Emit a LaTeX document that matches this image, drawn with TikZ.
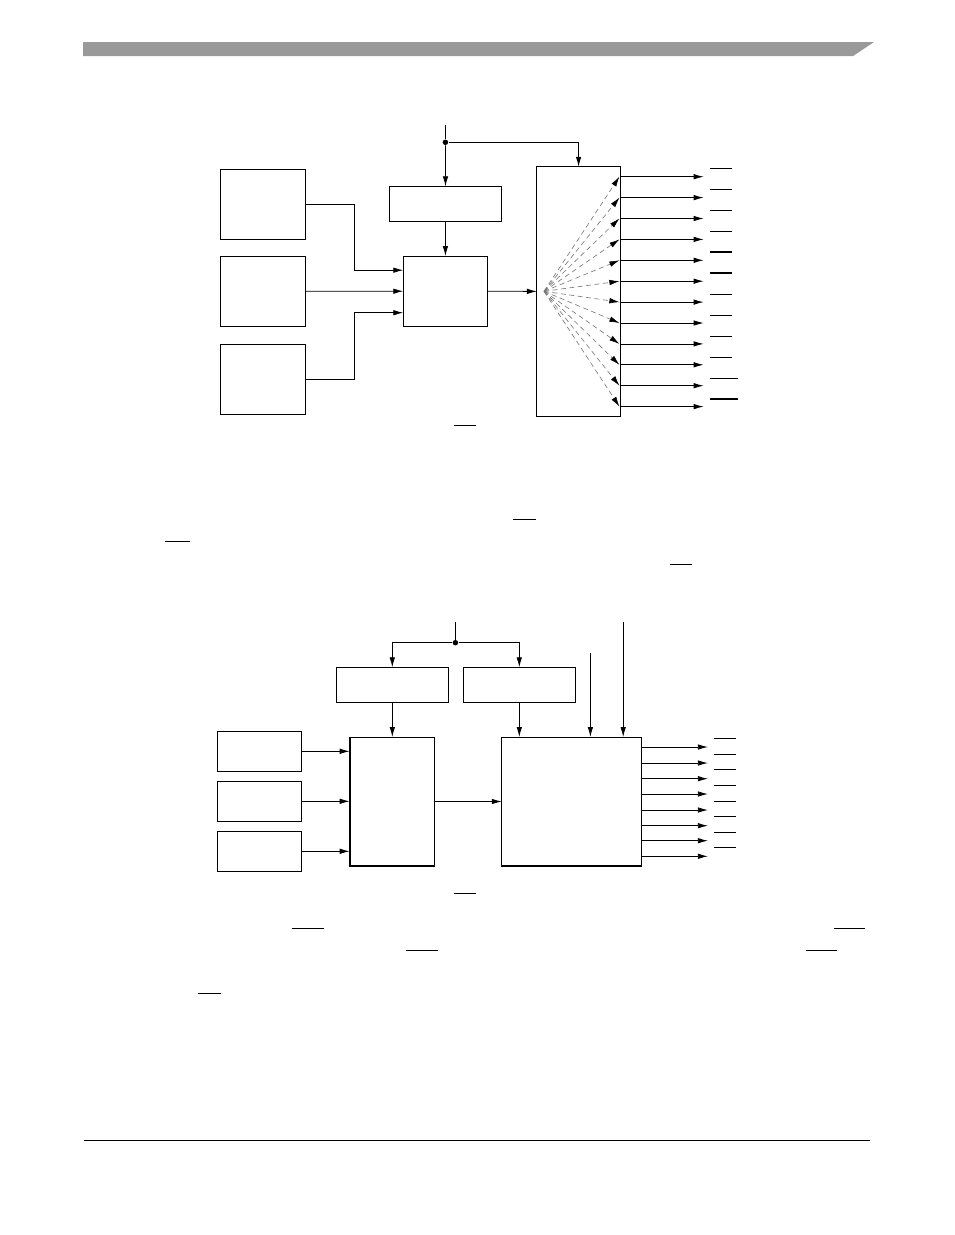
\documentclass[tikz,border=0pt]{standalone}
\usetikzlibrary{arrows.meta}
\begin{document}
\begin{tikzpicture}[x=1pt,y=-1pt,line width=0.8pt,
  blk/.style={draw,rectangle,inner sep=0pt,outer sep=0pt,line width=0.8pt},
  arr/.style={-{Latex[length=10pt,width=5.5pt]}},
  fan/.style={draw=black!55,line width=0.6pt,dash pattern=on 5pt off 3.5pt,-{Latex[length=10pt,width=5.5pt,color=black]}},
  ovl/.style={line width=0.9pt},
  ovlb/.style={line width=1.8pt},
  jdot/.style={circle,fill,inner sep=0pt,minimum size=5.5pt}]
\useasboundingbox (0,0) rectangle (954,1235);
% header bar
\fill[black!40] (83,42) -- (874,42) -- (853,56) -- (83,56) -- cycle;
% footer rule
\coordinate (fl) at (84,1140.3); \coordinate (fr) at (870,1140.3);
\draw[line width=1pt] (fl) -- (fr);

% ===== top diagram =====
\node[blk,minimum width=85.3pt,minimum height=69.7pt] (L1) at (263,204.2) {};
\node[blk,minimum width=85.3pt,minimum height=70pt] (L2) at (263,291.3) {};
\node[blk,minimum width=85.3pt,minimum height=70pt] (L3) at (263,379.3) {};
\node[blk,minimum width=112.5pt,minimum height=35pt] (T) at (445.5,203.8) {};
\node[blk,minimum width=84.3pt,minimum height=70.3pt] (M) at (445.4,291.2) {};
\node[blk,minimum width=83.6pt,minimum height=249.3pt] (R) at (578.6,291.4) {};
\coordinate (in1) at (445.4,125);
\node[jdot] (j1) at (445.4,142.3) {};
\draw (in1) -- (j1);
\draw[arr] (j1) -- (T.north);
\draw[arr] (j1) -| (R.north);
\draw[arr] (T.south) -- (M.north);
\draw[arr] (L1.east) -- ++(48.6,0) |- ([yshift=21pt]M.west);
\draw[arr] (L2.east) -- (M.west);
\draw[arr] (L3.east) -- ++(48.6,0) |- ([yshift=-21.5pt]M.west);
\draw[arr] (M.east) -- (R.west);
\coordinate (fo) at (544,291.3);
\foreach \y [count=\i] in {176.7,197.6,218.5,239.4,260.3,281.2,302.1,323,343.9,364.8,385.7,406.6}{
  \coordinate (o\i) at (703.6,\y);
  \draw[fan] (fo) -- ([xshift=-1pt]R.east |- o\i);
  \draw[arr] (R.east |- o\i) -- (o\i);
}
\foreach \y in {168.3,189.3,210.3,231.3,294,315.3,336.3,357.3}{
  \draw[ovl] (710,\y) -- (732,\y);
}
\draw[ovlb] (710,252) -- (732,252);
\draw[ovlb] (710,273) -- (732,273);
\draw[ovl] (710,378.3) -- (737.5,378.3);
\draw[ovlb] (710,398.7) -- (737.5,398.7);
\draw[ovl] (454.3,425) -- (475.7,425);

% text overlines between diagrams
\draw[ovl] (513,519.7) -- (536,519.7);
\draw[ovl] (165.4,541.7) -- (189.7,541.7);
\draw[ovl] (669.6,564.3) -- (692.4,564.3);

% ===== bottom diagram =====
\node[blk,minimum width=111.8pt,minimum height=35pt] (A) at (392.3,684.8) {};
\node[blk,minimum width=112.2pt,minimum height=35pt] (B) at (519.3,684.8) {};
\node[blk,minimum width=84.7pt,minimum height=129pt] (C) at (392,801.5) {};
\node[blk,minimum width=140pt,minimum height=129pt] (D) at (571.8,801.5) {};
\node[blk,minimum width=83.9pt,minimum height=40pt] (LL1) at (259.5,751.3) {};
\node[blk,minimum width=83.9pt,minimum height=40pt] (LL2) at (259.5,801.3) {};
\node[blk,minimum width=83.9pt,minimum height=40pt] (LL3) at (259.5,851.3) {};
\draw[line width=1.8pt] (C.north west) -- (C.south west) -- (C.south east);
\draw[line width=1.8pt] (D.south west) -- (D.south east);
\coordinate (in2) at (455.4,622.3);
\node[jdot] (j2) at (455.4,642.7) {};
\draw (in2) -- (j2);
\draw[arr] (j2) -| (A.north);
\draw[arr] (j2) -| (B.north);
\draw[arr] (A.south) -- (A.south |- C.north);
\draw[arr] (B.south) -- (B.south |- D.north);
\coordinate (p1) at (590.4,652.7);
\coordinate (p2) at (623.2,622.3);
\draw[arr] (p1) -- (p1 |- D.north);
\draw[arr] (p2) -- (p2 |- D.north);
\draw[arr] (LL1.east) -- (LL1.east -| C.west);
\draw[arr] (LL2.east) -- (LL2.east -| C.west);
\draw[arr] (LL3.east) -- (LL3.east -| C.west);
\draw[arr] (C.east) -- (D.west);
\foreach \y [count=\i] in {747,763,778.7,794,810,825.7,840.7,856.3}{
  \coordinate (q\i) at (707.9,\y);
  \draw[arr] (D.east |- q\i) -- (q\i);
}
\foreach \y in {738,754.3,769.3,785,801.3,816.3,832.3,847.3}{
  \draw[ovl] (713.6,\y) -- (735.7,\y);
}
\draw[ovl] (454.3,893.3) -- (475.7,893.3);

% text overlines below
\draw[ovl] (291.5,928.3) -- (323.9,928.3);
\draw[ovl] (833.8,928.3) -- (864.7,928.3);
\draw[ovl] (405.9,950) -- (437.8,950);
\draw[ovl] (805.5,950) -- (837.3,950);
\draw[ovl] (198,993.7) -- (220.9,993.7);
\end{tikzpicture}
\end{document}
